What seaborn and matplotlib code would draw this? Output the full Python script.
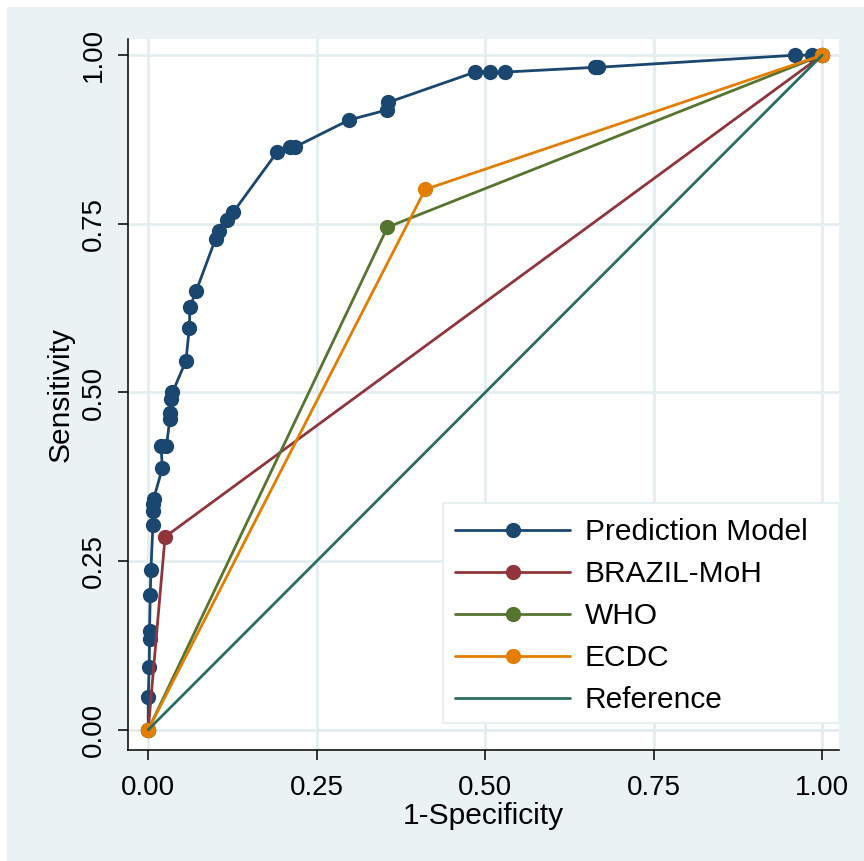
import numpy as np
import pandas as pd
import matplotlib
matplotlib.use("Agg")
import matplotlib.pyplot as plt
from matplotlib.patches import Rectangle
import seaborn as sns

# ROC points
model_fpr = [0.0, 0.0, 0.0015, 0.002, 0.002, 0.003, 0.004, 0.007, 0.007, 0.007,
             0.008, 0.021, 0.019, 0.027, 0.032, 0.033, 0.034, 0.036, 0.056, 0.061,
             0.062, 0.071, 0.100, 0.105, 0.117, 0.126, 0.191, 0.210, 0.218, 0.298,
             0.355, 0.356, 0.485, 0.507, 0.530, 0.663, 0.667, 0.960, 0.985, 1.0]
model_tpr = [0.0, 0.049, 0.093, 0.135, 0.147, 0.200, 0.237, 0.304, 0.325, 0.335,
             0.342, 0.388, 0.420, 0.420, 0.460, 0.470, 0.490, 0.500, 0.547, 0.596,
             0.627, 0.650, 0.728, 0.740, 0.756, 0.767, 0.856, 0.864, 0.864, 0.904,
             0.919, 0.930, 0.975, 0.975, 0.975, 0.982, 0.982, 1.0, 1.0, 1.0]

brazil_fpr = [0.0, 0.025, 1.0]
brazil_tpr = [0.0, 0.286, 1.0]
who_fpr    = [0.0, 0.355, 1.0]
who_tpr    = [0.0, 0.745, 1.0]
ecdc_fpr   = [0.0, 0.411, 1.0]
ecdc_tpr   = [0.0, 0.801, 1.0]
ref_fpr    = [0.0, 1.0]
ref_tpr    = [0.0, 1.0]

ticks       = [0.0, 0.25, 0.5, 0.75, 1.0]
tick_labels = ["0.00", "0.25", "0.50", "0.75", "1.00"]

BG   = "#EAF2F3"
GRID = "#E3EDEF"

sns.set_style("white")
plt.rcParams["font.family"] = ["Liberation Sans", "DejaVu Sans"]
plt.rcParams["text.color"]       = "black"
plt.rcParams["axes.labelcolor"]  = "black"
plt.rcParams["xtick.color"]      = "black"
plt.rcParams["ytick.color"]      = "black"

fig = plt.figure(figsize=(8.64, 8.61), dpi=100, facecolor="white")
fig.patches.append(Rectangle((7 / 864, 0), 857 / 864, 854 / 861,
                             transform=fig.transFigure, facecolor=BG,
                             edgecolor="none", zorder=-10))
ax = fig.add_axes([128 / 864, 111 / 861, 711 / 864, 711 / 861])
ax.set_facecolor("white")

series = [
    ("Prediction Model", model_fpr, model_tpr, "#1A476F", "o"),
    ("BRAZIL-MoH",       brazil_fpr, brazil_tpr, "#90353B", "o"),
    ("WHO",              who_fpr, who_tpr, "#55752F", "o"),
    ("ECDC",             ecdc_fpr, ecdc_tpr, "#E37E00", "o"),
    ("Reference",        ref_fpr, ref_tpr, "#2A6E62", None),
]

for name, xs, ys, col, mk in series:
    df = pd.DataFrame({"fpr": xs, "tpr": ys})
    sns.lineplot(
        data      = df,
        x         = "fpr",
        y         = "tpr",
        color     = col,
        marker    = mk,
        markersize= 11,
        markeredgewidth = 0,
        linewidth = 2.0,
        estimator = None,
        sort      = False,
        label     = name,
        ax        = ax,
    )

ax.set_xlim(-0.030, 1.025)
ax.set_ylim(-0.030, 1.024)
ax.set_xticks(ticks)
ax.set_xticklabels(tick_labels)
ax.set_yticks(ticks)
ax.set_yticklabels(tick_labels, rotation=90, va="center")
ax.grid(True, color=GRID, linewidth=2)
ax.set_axisbelow(True)

for side in ["top", "right"]:
    ax.spines[side].set_visible(False)
for side in ["left", "bottom"]:
    ax.spines[side].set_color("black")
    ax.spines[side].set_linewidth(1.1)

ax.tick_params(axis="both", direction="out", length=7, width=1.1,
               color="black", labelsize=20, left=True, bottom=True)
ax.tick_params(axis="x", pad=11)
ax.tick_params(axis="y", pad=8)

ax.set_xlabel("1-Specificity", fontsize=21.5, labelpad=1)
ax.set_ylabel("Sensitivity", fontsize=21.5, labelpad=5)

# legend box drawn separately (Stata keeps more room on the right)
ax.add_patch(Rectangle((0.443, 0.038), 0.557, 0.309, transform=ax.transAxes,
                       facecolor="white", edgecolor=GRID, linewidth=1.2,
                       zorder=4))
leg = ax.legend(
    loc            = "upper left",
    bbox_to_anchor = (0.460, 0.326),
    borderaxespad  = 0,
    borderpad      = 0,
    fontsize       = 21.5,
    numpoints      = 1,
    handlelength   = 3.85,
    handletextpad  = 0.5,
    labelspacing   = 0.47,
    frameon        = False,
)
leg.set_zorder(5)

plt.savefig("out.png", dpi=100, facecolor=fig.get_facecolor())
